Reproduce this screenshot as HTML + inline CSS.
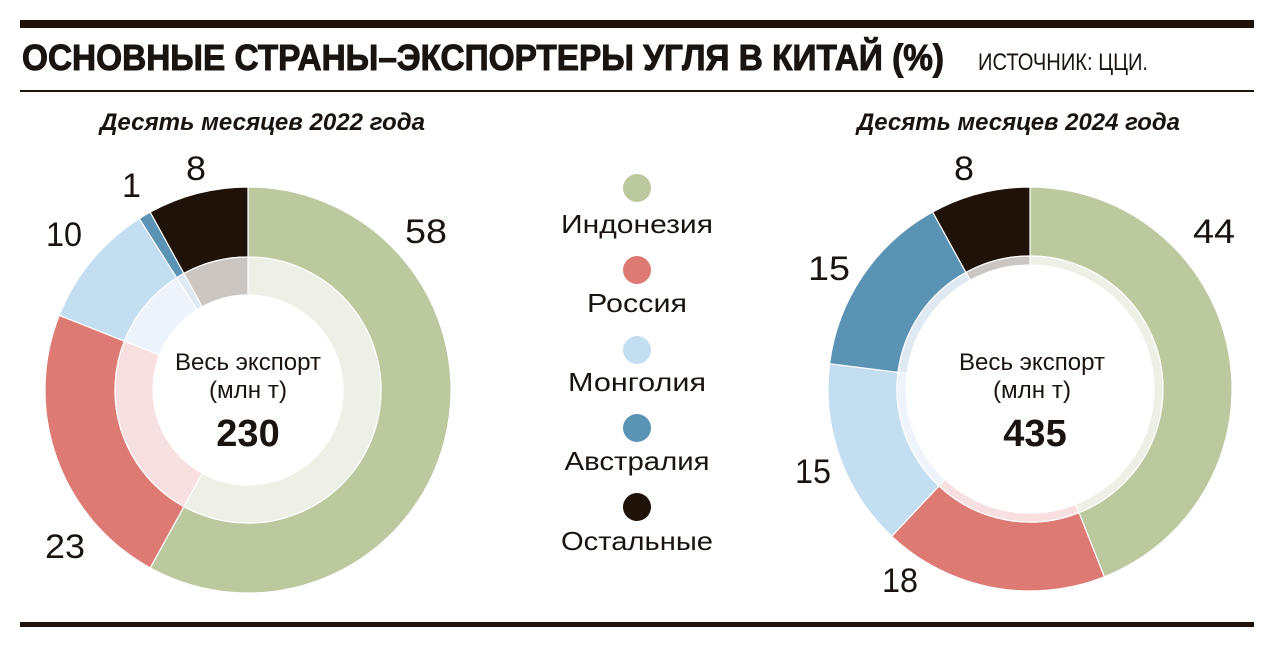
<!DOCTYPE html>
<html><head><meta charset="utf-8"><style>
html,body{margin:0;padding:0;background:#fff;}
svg{display:block;}
text{font-family:"Liberation Sans",sans-serif;fill:#1a1410;}
</style></head><body>
<svg id="s" width="1275" height="647" viewBox="0 0 1275 647" xmlns="http://www.w3.org/2000/svg">
<rect x="0" y="0" width="1275" height="647" fill="#fff"/>
<rect x="20" y="20" width="1234" height="8" fill="#1f1209"/>
<text x="22" y="70" font-size="36" font-weight="bold" stroke="#1a1410" stroke-width="1" textLength="922" lengthAdjust="spacingAndGlyphs">ОСНОВНЫЕ СТРАНЫ–ЭКСПОРТЕРЫ УГЛЯ В КИТАЙ (%)</text>
<text x="978" y="70" font-size="24" textLength="170" lengthAdjust="spacingAndGlyphs">ИСТОЧНИК: ЦЦИ.</text>
<rect x="20" y="90" width="1234" height="2" fill="#1f1209"/>
<text x="100" y="130" font-size="24" font-weight="bold" font-style="italic" textLength="325" lengthAdjust="spacingAndGlyphs">Десять месяцев 2022 года</text>
<text x="857" y="130" font-size="24" font-weight="bold" font-style="italic" textLength="323" lengthAdjust="spacingAndGlyphs">Десять месяцев 2024 года</text>
<rect x="20" y="622" width="1234" height="5" fill="#1f1209"/>
<g id="charts"></g>
<g font-size="26">
<circle cx="637" cy="188" r="14" fill="#bcc89e"/>
<text x="637" y="233" text-anchor="middle" textLength="152" lengthAdjust="spacingAndGlyphs">Индонезия</text>
<circle cx="637" cy="270" r="14" fill="#dd7a73"/>
<text x="637" y="312" text-anchor="middle" textLength="100" lengthAdjust="spacingAndGlyphs">Россия</text>
<circle cx="637" cy="350" r="14" fill="#c3ddf1"/>
<text x="637" y="391" text-anchor="middle" textLength="138" lengthAdjust="spacingAndGlyphs">Монголия</text>
<circle cx="637" cy="428" r="14" fill="#5b93b5"/>
<text x="637" y="470" text-anchor="middle" textLength="145" lengthAdjust="spacingAndGlyphs">Австралия</text>
<circle cx="637" cy="507" r="14" fill="#1f1209"/>
<text x="637" y="550" text-anchor="middle" textLength="152" lengthAdjust="spacingAndGlyphs">Остальные</text>
</g>
<g font-size="34">
<text x="186" y="180" textLength="20" lengthAdjust="spacingAndGlyphs">8</text>
<text x="122" y="197">1</text>
<text x="46" y="246" textLength="36" lengthAdjust="spacingAndGlyphs">10</text>
<text x="405" y="243" textLength="42" lengthAdjust="spacingAndGlyphs">58</text>
<text x="45" y="558" textLength="40" lengthAdjust="spacingAndGlyphs">23</text>
<text x="954" y="180" textLength="20" lengthAdjust="spacingAndGlyphs">8</text>
<text x="1193" y="243" textLength="42" lengthAdjust="spacingAndGlyphs">44</text>
<text x="808" y="280" textLength="42" lengthAdjust="spacingAndGlyphs">15</text>
<text x="795" y="483" textLength="36" lengthAdjust="spacingAndGlyphs">15</text>
<text x="882" y="592" textLength="36" lengthAdjust="spacingAndGlyphs">18</text>
</g>
<g text-anchor="middle">
<text x="248" y="370" font-size="24" textLength="146" lengthAdjust="spacingAndGlyphs">Весь экспорт</text>
<text x="248" y="398" font-size="24" textLength="78" lengthAdjust="spacingAndGlyphs">(млн т)</text>
<text x="248" y="446" font-size="38" font-weight="bold">230</text>
<text x="1032" y="370" font-size="24" textLength="146" lengthAdjust="spacingAndGlyphs">Весь экспорт</text>
<text x="1032" y="398" font-size="24" textLength="78" lengthAdjust="spacingAndGlyphs">(млн т)</text>
<text x="1035" y="446" font-size="38" font-weight="bold">435</text>
</g>
</svg>
<script>
function arc(cx,cy,r0,r1,a0,a1,fill){
  function p(r,a){var t=a*Math.PI/180;return [cx+r*Math.sin(t),cy-r*Math.cos(t)];}
  var l=(a1-a0)>180?1:0;
  var A=p(r1,a0),B=p(r1,a1),C=p(r0,a1),D=p(r0,a0);
  return '<path d="M'+A+' A'+r1+','+r1+' 0 '+l+' 1 '+B+' L'+C+' A'+r0+','+r0+' 0 '+l+' 0 '+D+' Z" fill="'+fill+'" stroke="#fff" stroke-width="1.2"/>';
}
var cols=['#bcc89e','#dd7a73','#c3ddf1','#5b93b5','#1f1209'];
var light=['#eef0e6','#f8dfe0','#edf4fb','#dfe9f1','#cbc6c1'];
function donut(cx,cy,vals,rin,rmid,rout){
  var s='',a=0;
  for(var i=0;i<vals.length;i++){var b=a+vals[i]*3.6;
    s+=arc(cx,cy,rmid,rout,a,b,cols[i]);
    s+=arc(cx,cy,rin,rmid,a,b,light[i]);a=b;}
  return s;
}
document.getElementById('charts').innerHTML=
  donut(248,390,[58,23,10,1,8],95,133,203)+
  donut(1030,389,[44,18,15,15,8],124,133,202);
</script>
</body></html>
